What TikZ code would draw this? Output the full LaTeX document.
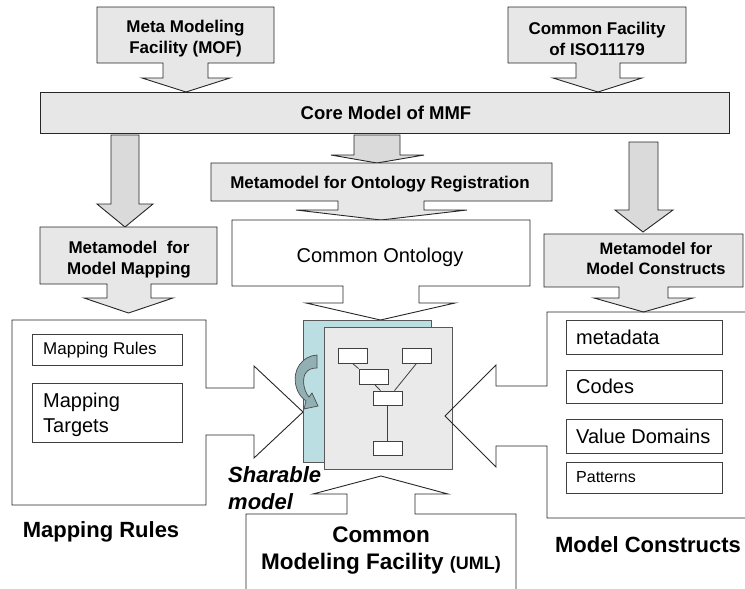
\documentclass[tikz,border=0pt]{standalone}
\usepackage{fontspec}
\setmainfont{Liberation Sans}
\definecolor{calloutgray}{RGB}{231,231,231}
\definecolor{arrowgray}{RGB}{218,218,218}
\definecolor{sheetgray}{RGB}{234,234,234}
\definecolor{teal1}{RGB}{186,222,226}
\definecolor{curlc}{RGB}{146,176,180}
\begin{document}
\begin{tikzpicture}[x=1pt,y=-1pt,
  line join=miter,
  outl/.style={draw=black!85, line width=0.9pt},
  callout/.style={outl, fill=calloutgray},
  blockarrow/.style={outl, fill=arrowgray},
  whitecall/.style={outl, fill=white},
  sheet/.style={draw=black!65, line width=0.9pt},
  minibox/.style={draw=black!75, line width=0.8pt, fill=white},
  ttl/.style={font=\fontsize{17}{21}\selectfont\bfseries, align=center, inner sep=0pt},
  big/.style={font=\fontsize{22}{27}\selectfont\bfseries, align=center, inner sep=0pt},
  item/.style={font=\fontsize{20}{25}\selectfont, align=left, inner sep=0pt, anchor=west}
]
\useasboundingbox (0,0) rectangle (745,589);

% top callouts
\path[callout] (97,7) -- (274,7) -- (274,63) -- (208,63) -- (208,78) -- (230,78) -- (186,92) -- (142,78) -- (163,78) -- (163,63) -- (97,63) -- cycle;
\path[callout] (508,7) -- (686,7) -- (686,63) -- (620,63) -- (620,78) -- (642,78) -- (598,92) -- (553,78) -- (576,78) -- (576,63) -- (508,63) -- cycle;
\node[ttl] (mof) at (185.5,39) {Meta Modeling\\Facility (MOF)};
\node[ttl] (iso) at (597,39) {Common Facility\\of ISO11179};

% core
\path[callout] (40,92) rectangle (729,133);
\node[ttl, font=\fontsize{18.5}{22}\selectfont\bfseries] (core) at (386,113) {Core Model of MMF};

% block arrows
\path[blockarrow] (111,135) -- (139,135) -- (139,204) -- (153,204) -- (125,227) -- (97,204) -- (111,204) -- cycle;
\path[blockarrow] (354,135) -- (400,135) -- (400,155) -- (424,155) -- (377,163) -- (331,155) -- (354,155) -- cycle;
\path[blockarrow] (629,142) -- (658,142) -- (658,210) -- (673,210) -- (643,232) -- (615,210) -- (629,210) -- cycle;

% mapping metamodel callout
\path[callout] (40,227) -- (217,227) -- (217,284) -- (151,284) -- (151,298) -- (173,298) -- (128.5,313) -- (84,298) -- (107,298) -- (107,284) -- (40,284) -- cycle;
\node[ttl] (mapmeta) at (129,259.5) {Metamodel\ \ for\\Model Mapping};

% ontology registration callout
\path[callout] (211,163) -- (552,163) -- (552,201) -- (424,201) -- (424,210) -- (467,210) -- (381,220) -- (296,210) -- (338,210) -- (338,201) -- (211,201) -- cycle;
\node[ttl] (ontoreg) at (380,184) {Metamodel for Ontology Registration};

% common ontology callout
\path[whitecall] (232,220) -- (530,220) -- (530,286) -- (419,286) -- (419,303) -- (455,303) -- (380.5,320) -- (306,303) -- (343,303) -- (343,286) -- (232,286) -- cycle;
\node[inner sep=0pt, font=\fontsize{20}{24}\selectfont] (onto) at (380,257) {Common Ontology};

% constructs metamodel callout
\path[callout] (544,234) -- (743,234) -- (743,287) -- (668,287) -- (668,298) -- (693,298) -- (643.5,312) -- (594,298) -- (619,298) -- (619,287) -- (544,287) -- cycle;
\node[ttl, font=\fontsize{16.5}{20}\selectfont\bfseries] (consmeta) at (656,259) {Metamodel for\\Model Constructs};

% left big callout
\path[whitecall] (12,320) -- (206,320) -- (206,388) -- (254,388) -- (254,366) -- (303,412) -- (254,458) -- (254,435) -- (206,435) -- (206,505) -- (12,505) -- cycle;
\path[minibox] (32,334) rectangle (182,365);
\path[minibox] (32,383) rectangle (182,442);
\node[item, font=\fontsize{17}{21}\selectfont] (mrules) at (43,350) {Mapping Rules};
\node[item] (mtargets) at (43,414.5) {Mapping\\Targets};

% sheets
\path[sheet, fill=teal1] (303,320) rectangle (431,462);
\path[sheet, fill=sheetgray] (324,327) rectangle (452,469);
\node[minibox, minimum width=29pt, minimum height=15pt, inner sep=0pt] (b1) at (352.5,355.5) {};
\node[minibox, minimum width=29pt, minimum height=15pt, inner sep=0pt] (b2) at (416.5,355.5) {};
\node[minibox, minimum width=29pt, minimum height=15pt, inner sep=0pt] (b3) at (373.5,376.5) {};
\node[minibox, minimum width=29pt, minimum height=14pt, inner sep=0pt] (b4) at (387.5,398) {};
\node[minibox, minimum width=29pt, minimum height=14pt, inner sep=0pt] (b5) at (387.5,448) {};
\draw[draw=black!75, line width=0.8pt] (b1.south) -- (b3.north west) ++(0,0);
\draw[draw=black!75, line width=0.8pt] ([xshift=1pt]b3.south) -- ([xshift=-7pt]b4.north);
\draw[draw=black!75, line width=0.8pt] (b2.south) -- ([xshift=7pt]b4.north);
\draw[draw=black!75, line width=0.8pt] (b4.south) -- (b5.north);

% curved arrow
\path[fill=curlc, draw=black!70, line width=0.7pt]
  (317,355) .. controls (302,356) and (292,370) .. (296,386)
  .. controls (298,394) and (302,398) .. (306,401)
  -- (304,409) -- (318,406) -- (312,393) -- (309,397)
  .. controls (304,391) and (302,381) .. (305,374)
  .. controls (308,369) and (312,368) .. (317,368) -- cycle;

% right big callout (open at right edge)
\draw[outl] (745,312) -- (547,312) -- (547,386) -- (496,386) -- (496,365) -- (445,416) -- (496,467) -- (496,446) -- (547,446) -- (547,518) -- (745,518);
\path[minibox] (566,320) rectangle (722,354);
\path[minibox] (566,370) rectangle (722,403);
\path[minibox] (566,419) rectangle (722,453);
\path[minibox] (566,462) rectangle (722,493);
\node[item] (meta) at (576,337) {metadata};
\node[item] (codes) at (576,386.5) {Codes};
\node[item] (vd) at (576,436) {Value Domains};
\node[item, font=\fontsize{16}{19}\selectfont] (pat) at (576,477.5) {Patterns};

% bottom UML callout (open at bottom)
\draw[outl] (246,589) -- (246,514) -- (347,514) -- (347,494) -- (313,494) -- (381,476) -- (448,494) -- (415,494) -- (415,514) -- (516,514) -- (516,589);
\node[big, font=\fontsize{22.5}{27}\selectfont\bfseries] (uml) at (381,551) {Common\\Modeling Facility {\fontsize{18}{22}\selectfont(UML)}};

% labels
\node[big] (mrlabel) at (101,532) {Mapping Rules};
\node[big] (mclabel) at (648,545) {Model Constructs};
\node[big, font=\fontsize{22}{27}\selectfont\bfseries\itshape, align=left, anchor=west] (share) at (228,488.5) {Sharable\\model};
\end{tikzpicture}
\end{document}
